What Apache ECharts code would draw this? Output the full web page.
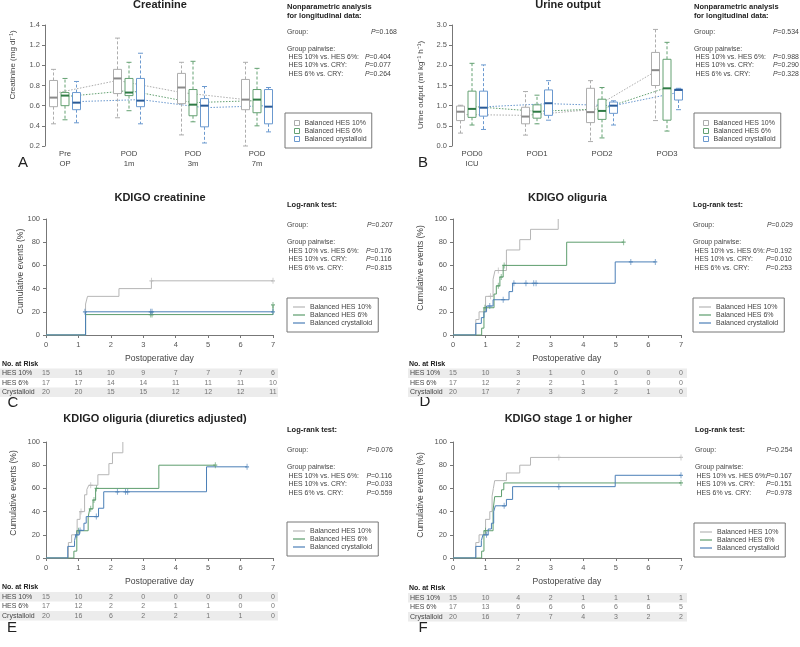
<!DOCTYPE html>
<html><head><meta charset="utf-8">
<script src="https://cdn.jsdelivr.net/npm/echarts@6/dist/echarts.min.js"></script>
<style>html,body{margin:0;padding:0;background:#fff}#c{width:800px;height:647px}</style>
</head><body><div id="c"></div>
<script>
// ================= DATA =================
const groups = ['Balanced HES 10%', 'Balanced HES 6%', 'Balanced crystalloid'];

// Box plots: [min, q1, median, q3, max, mean]
const creatCats = ['Pre\nOP', 'POD\n1m', 'POD\n3m', 'POD\n7m'];
const creatHES10 = [[0.42,0.59,0.68,0.85,0.96,0.72],[0.48,0.72,0.87,0.96,1.27,0.85],[0.31,0.62,0.78,0.92,1.03,0.73],[0.20,0.56,0.66,0.86,1.03,0.66]];
const creatHES6  = [[0.46,0.60,0.70,0.73,0.87,0.69],[0.55,0.70,0.73,0.87,1.03,0.75],[0.44,0.50,0.61,0.76,1.04,0.63],[0.40,0.53,0.66,0.76,0.97,0.65]];
const creatCRY   = [[0.43,0.56,0.63,0.73,0.84,0.64],[0.42,0.59,0.65,0.87,1.12,0.66],[0.23,0.39,0.60,0.67,0.79,0.58],[0.34,0.42,0.59,0.76,0.78,0.60]];

const urineCats = ['POD0\nICU', 'POD1', 'POD2', 'POD3'];
const urineHES10 = [[0.32,0.63,0.85,0.99,1.01,0.78],[0.27,0.55,0.73,0.96,1.35,0.76],[0.11,0.58,0.84,1.43,1.62,0.90],[0.63,1.50,1.88,2.32,2.89,1.85]];
const urineHES6  = [[0.52,0.71,0.92,1.36,2.05,0.98],[0.55,0.69,0.85,1.02,1.26,0.86],[0.20,0.66,0.87,1.16,1.45,0.92],[0.37,0.64,1.43,2.15,2.57,1.45]];
const urineCRY   = [[0.41,0.74,0.95,1.36,2.01,0.97],[0.64,0.76,1.06,1.39,1.62,1.05],[0.52,0.81,1.00,1.09,1.12,1.00],[0.90,1.14,1.39,1.41,1.43,1.33]];

// Kaplan-Meier step curves [day, cumulative events %] and censor marks
const kmC_hes10 = [[0,0],[1.22,26.7],[1.28,33.3],[2.25,40.0],[3.25,46.7],[7,46.7]];
const kmC_hes6  = [[0,0],[1.22,17.6],[7,17.6],[7,25.9]];
const kmC_cry   = [[0,0],[1.22,20.0],[7,20.0]];
const censC_hes10 = [[3.25,46.7],[7,46.7]];
const censC_hes6  = [[3.23,17.6],[3.27,17.6],[7,25.9]];
const censC_cry   = [[1.20,20.0],[3.23,20.0],[3.27,20.0],[7,20.0]];

const kmD_hes10 = [[0,0],[0.70,13.3],[0.80,20.0],[1.00,33.3],[1.23,48.1],[1.29,55.6],[1.64,73.3],[2.05,82.2],[2.38,91.1],[3.23,100]];
const kmD_hes6  = [[0,0],[0.88,5.9],[0.95,23.5],[1.26,35.3],[1.33,42.4],[1.44,50.0],[1.54,60.0],[3.49,80.0],[5.24,80.0]];
const kmD_cry   = [[0,0],[0.70,10.0],[0.87,15.0],[0.95,20.0],[1.03,25.0],[1.23,30.4],[1.72,37.4],[1.83,44.6],[4.98,63.0],[6.21,63.0]];
const censD_hes10 = [[1.15,33.3],[1.39,55.6]];
const censD_hes6  = [[0.98,23.5],[1.39,42.4],[1.48,50.0],[1.57,60.0],[5.24,80.0]];
const censD_cry   = [[1.13,25.0],[1.54,30.4],[1.87,44.6],[2.24,44.6],[2.48,44.6],[2.55,44.6],[5.46,63.0],[6.21,63.0]];

const kmE_hes10 = [[0,0],[0.69,13.3],[0.79,20.0],[0.96,33.3],[1.05,40.0],[1.19,54.5],[1.26,59.1],[1.32,62.7],[1.60,71.8],[1.94,81.4],[2.05,90.7],[2.37,100]];
const kmE_hes6  = [[0,0],[0.86,5.9],[0.95,23.5],[1.30,35.3],[1.35,42.4],[1.45,50.0],[1.53,60.0],[3.48,80.0],[5.22,80.0]];
const kmE_cry   = [[0,0],[0.67,10.0],[0.88,15.0],[0.92,20.0],[1.03,23.8],[1.17,30.0],[1.24,35.7],[1.62,42.9],[1.78,57.1],[4.95,78.6],[6.20,78.6]];
const censE_hes10 = [[1.08,40.0],[1.38,62.7]];
const censE_hes6  = [[1.00,23.5],[1.38,42.4],[1.48,50.0],[1.56,60.0],[5.22,80.0]];
const censE_cry   = [[0.95,20.0],[1.05,23.8],[1.55,35.7],[2.20,57.1],[2.45,57.1],[2.52,57.1],[6.20,78.6]];

const kmF_hes10 = [[0,0],[0.70,13.3],[0.80,20.0],[1.00,33.3],[1.13,40.0],[1.20,53.3],[1.24,60.0],[1.28,66.7],[1.64,73.3],[2.05,80.0],[2.38,86.7],[7,86.7]];
const kmF_hes6  = [[0,0],[0.88,5.9],[0.95,23.5],[1.23,41.2],[1.28,52.9],[1.49,58.8],[1.56,64.7],[7,64.7]];
const kmF_cry   = [[0,0],[0.70,10.0],[0.87,15.0],[0.92,20.0],[1.08,25.0],[1.18,30.0],[1.25,40.0],[1.30,45.0],[1.64,50.5],[1.83,61.5],[4.98,71.3],[7,71.3]];
const censF_hes10 = [[3.25,86.7],[7,86.7]];
const censF_hes6  = [[1.00,23.5],[7,64.7]];
const censF_cry   = [[1.03,20.0],[1.57,45.0],[3.25,61.5],[7,71.3]];

// Numbers at risk
const riskRows = ['HES 10%', 'HES 6%', 'Crystalloid'];
const riskDays = [0, 1, 2, 3, 4, 5, 6, 7];
const riskC = [[15,15,10,9,7,7,7,6],[17,17,14,14,11,11,11,10],[20,20,15,15,12,12,12,11]];
const riskD = [[15,10,3,1,0,0,0,0],[17,12,2,2,1,1,0,0],[20,17,7,3,3,2,1,0]];
const riskE = [[15,10,2,0,0,0,0,0],[17,12,2,2,1,1,0,0],[20,16,6,2,2,1,1,0]];
const riskF = [[15,10,4,2,1,1,1,1],[17,13,6,6,6,6,6,5],[20,16,7,7,4,3,2,2]];

// Statistics text: [group P, pairwise P x3]
const pairLabels = ['HES 10% vs. HES 6%:', 'HES 10% vs. CRY:', 'HES 6% vs. CRY:'];
const pA = ['0.168', '0.404', '0.077', '0.264'];
const pB = ['0.534', '0.988', '0.290', '0.328'];
const pC = ['0.207', '0.176', '0.116', '0.815'];
const pD = ['0.029', '0.192', '0.010', '0.253'];
const pE = ['0.076', '0.116', '0.033', '0.559'];
const pF = ['0.254', '0.167', '0.151', '0.978'];

// ================= STYLE / BUILD =================
const FONT = '"Liberation Sans", Arial, Helvetica, sans-serif';
const FS = 6.9;
const COL = ['#b6b6b6', '#5d9d6d', '#4b7fb7'];
const BOXCOL = ['#adadad', '#64a172', '#6b99cf'];
const MEDCOL = ['#8a8a8a', '#2f7b45', '#2a5b98'];
const AX = '#777';

const grid = [], xAxis = [], yAxis = [], series = [], legend = [], graphic = [];

function txt(x, y, s, o) {
  graphic.push({type: 'text', x: x, y: y, silent: true,
    style: Object.assign({text: s, fontSize: FS, fontFamily: FONT, fill: '#444', align: 'left', verticalAlign: 'middle'}, o || {})});
}
function vtxt(x, y, s, size) {
  graphic.push({type: 'text', x: x, y: y, rotation: Math.PI / 2, silent: true,
    style: {text: s, fontSize: size, fontFamily: FONT, fill: '#444', align: 'center', verticalAlign: 'middle'}});
}
function ptxt(x, y, v) {
  txt(x, y, '{i|P}=' + v, {rich: {i: {fontStyle: 'italic', fontSize: FS, fontFamily: FONT, fill: '#444', color: '#444'}}});
}

function boxRender(stats, offset, col, medCol) {
  return function (params, api) {
    const i = params.dataIndex;
    const d = stats[i];
    const cx = api.coord([i, d[2]])[0] + offset;
    const Y = v => api.coord([i, v])[1];
    const hw = 4, cw = 2.5;
    const ch = [];
    ch.push({type: 'line', z2: 5, shape: {x1: cx, y1: Y(d[3]), x2: cx, y2: Y(d[4])}, style: {stroke: col, lineWidth: 1, lineDash: [3, 2]}});
    ch.push({type: 'line', z2: 5, shape: {x1: cx, y1: Y(d[1]), x2: cx, y2: Y(d[0])}, style: {stroke: col, lineWidth: 1, lineDash: [3, 2]}});
    ch.push({type: 'line', z2: 5, shape: {x1: cx - cw, y1: Y(d[4]), x2: cx + cw, y2: Y(d[4])}, style: {stroke: col, lineWidth: 1}});
    ch.push({type: 'line', z2: 5, shape: {x1: cx - cw, y1: Y(d[0]), x2: cx + cw, y2: Y(d[0])}, style: {stroke: col, lineWidth: 1}});
    ch.push({type: 'rect', z2: 10, shape: {x: cx - hw, y: Y(d[3]), width: 2 * hw, height: Y(d[1]) - Y(d[3])}, style: {fill: '#fff', stroke: col, lineWidth: 1}});
    ch.push({type: 'line', z2: 11, shape: {x1: cx - hw, y1: Y(d[2]), x2: cx + hw, y2: Y(d[2])}, style: {stroke: medCol, lineWidth: 2}});
    if (i < stats.length - 1) {
      const n = stats[i + 1];
      const p2 = api.coord([i + 1, n[5]]);
      ch.push({type: 'line', z2: 1, shape: {x1: cx, y1: Y(d[5]), x2: p2[0] + offset, y2: p2[1]}, style: {stroke: col, lineWidth: 1, lineDash: [1.5, 1.5]}});
    }
    return {type: 'group', children: ch};
  };
}

function addBoxPanel(l, t, w, h, yOff, cats, ymin, ymax, step, sets) {
  const gi = grid.length;
  grid.push({left: l, top: t, width: w, height: h, outerBoundsMode: 'none'});
  xAxis.push({type: 'category', gridIndex: gi, data: cats, axisLine: {show: false}, axisTick: {show: false},
    axisLabel: {fontSize: 7.7, color: '#444', lineHeight: 10, margin: 3, fontFamily: FONT}, splitLine: {show: false}});
  yAxis.push({type: 'value', gridIndex: gi, min: ymin, max: ymax, interval: step, offset: yOff,
    axisLine: {show: true, lineStyle: {color: AX, width: 1}}, axisTick: {show: true, length: 3, lineStyle: {color: AX}},
    axisLabel: {fontSize: 7.5, color: '#555', margin: 5, fontFamily: FONT, formatter: v => v.toFixed(1)}, splitLine: {show: false}});
  const offs = [-11.5, 0, 11.5];
  sets.forEach((st, k) => {
    series.push({type: 'custom', name: groups[k], xAxisIndex: gi, yAxisIndex: gi, silent: true,
      data: st.map((s, i) => [i].concat(s)), renderItem: boxRender(st, offs[k], BOXCOL[k], MEDCOL[k]),
      itemStyle: {color: BOXCOL[k]}});
  });
}

const CROSS = 'path://M5,0L5,10M0,5L10,5';
function addKMPanel(l, t, w, h, curves, cens) {
  const gi = grid.length;
  grid.push({left: l, top: t, width: w, height: h, outerBoundsMode: 'none'});
  xAxis.push({type: 'value', gridIndex: gi, min: 0, max: 7, interval: 1,
    name: 'Postoperative day', nameLocation: 'middle', nameGap: 19,
    nameTextStyle: {fontSize: 8.6, color: '#444', fontFamily: FONT},
    axisLine: {show: true, lineStyle: {color: AX}}, axisTick: {show: true, length: 3, lineStyle: {color: AX}},
    axisLabel: {fontSize: 7.5, color: '#555', margin: 6, fontFamily: FONT}, splitLine: {show: false}});
  yAxis.push({type: 'value', gridIndex: gi, min: 0, max: 100, interval: 20,
    axisLine: {show: true, lineStyle: {color: AX}}, axisTick: {show: true, length: 3, lineStyle: {color: AX}},
    axisLabel: {fontSize: 7.5, color: '#555', margin: 6, fontFamily: FONT}, splitLine: {show: false}});
  curves.forEach((c, k) => {
    series.push({type: 'line', name: groups[k], xAxisIndex: gi, yAxisIndex: gi, data: c, step: 'end',
      symbol: 'none', silent: true, lineStyle: {color: COL[k], width: 1}, itemStyle: {color: COL[k]}, z: 3 + k});
    series.push({type: 'scatter', name: groups[k], xAxisIndex: gi, yAxisIndex: gi, data: cens[k], silent: true,
      symbol: CROSS, symbolSize: [4, 6], itemStyle: {color: 'rgba(0,0,0,0)', borderColor: COL[k], borderWidth: 1}, z: 6 + k});
  });
}

function addRiskTable(l, w, t, h, x0px, x7px, rows) {
  const gi = grid.length;
  grid.push({left: l, top: t, width: w, height: h, outerBoundsMode: 'none'});
  const ppd = (x7px - x0px) / 7;
  xAxis.push({type: 'value', gridIndex: gi, show: false, min: -(x0px - l) / ppd, max: 7 + (l + w - x7px) / ppd,
    splitLine: {show: false}});
  yAxis.push({type: 'category', gridIndex: gi, data: riskRows, inverse: true,
    axisLine: {show: false}, axisTick: {show: false},
    axisLabel: {inside: true, fontSize: 7, color: '#444', margin: 2, fontFamily: FONT},
    splitLine: {show: false}, splitArea: {show: true, areaStyle: {color: ['#ececec', 'rgba(255,255,255,0)']}}});
  const data = [];
  rows.forEach((r, ri) => r.forEach((v, di) => data.push([riskDays[di], ri, v])));
  series.push({type: 'scatter', xAxisIndex: gi, yAxisIndex: gi, data: data, symbolSize: 1, silent: true,
    itemStyle: {color: 'rgba(0,0,0,0)'},
    label: {show: true, position: 'inside', formatter: p => String(p.value[2]), fontSize: 7, color: '#555', fontFamily: FONT}});
}

function addLegend(left, top, kind) {
  const box = kind === 'box';
  legend.push({left: left, top: top, orient: 'vertical', selectedMode: false,
    padding: box ? [6, 5, 5, 9] : [5, 6, 5, 6], borderColor: '#777', borderWidth: 1, borderRadius: 0,
    itemGap: 0, itemWidth: box ? 5 : 12, itemHeight: box ? 5 : 1.2, itemTextGap: box ? 5 : 7,
    textStyle: {fontSize: 7, color: '#444', fontFamily: FONT, lineHeight: 8},
    data: groups.map((g, k) => ({name: g, icon: 'rect',
      itemStyle: box ? {color: '#fff', borderColor: BOXCOL[k], borderWidth: 1} : {color: COL[k], borderWidth: 0}}))});
}

function statBlockNP(x, pVals, pxG, pxP) {
  txt(x, 7.3, 'Nonparametric analysis', {fontWeight: 'bold', fill: '#222', fontSize: 7.5});
  txt(x, 16, 'for longitudinal data:', {fontWeight: 'bold', fill: '#222', fontSize: 7.5});
  txt(x, 32, 'Group:'); ptxt(pxG, 32, pVals[0]);
  txt(x, 49.3, 'Group pairwise:');
  [57.3, 65.5, 73.8].forEach((y, i) => { txt(x + 1.5, y, pairLabels[i]); ptxt(pxP, y, pVals[i + 1]); });
}
function statBlockLR(x, y0, pVals, pxG, pxP) {
  txt(x, y0, 'Log-rank test:', {fontWeight: 'bold', fill: '#222', fontSize: 7.5});
  txt(x, y0 + 20, 'Group:'); ptxt(pxG, y0 + 20, pVals[0]);
  txt(x, y0 + 37, 'Group pairwise:');
  [46, 54.5, 63].forEach((dy, i) => { txt(x + 1.5, y0 + dy, pairLabels[i]); ptxt(pxP, y0 + dy, pVals[i + 1]); });
}
function title(x, y, s) { txt(x, y, s, {fontSize: 11, fontWeight: 'bold', fill: '#222', align: 'center'}); }
function letter(x, y, s) { txt(x, y, s, {fontSize: 15, fill: '#222', align: 'center'}); }

// ---- Panel A ----
addBoxPanel(33, 25, 256, 121, -12, creatCats, 0.2, 1.4, 0.2, [creatHES10, creatHES6, creatCRY]);
title(160, 5, 'Creatinine');
vtxt(12.7, 65, 'Creatinine (mg dl\u207B\u00B9)', 8);
letter(23, 163, 'A');
statBlockNP(287, pA, 371, 365);
addLegend(285, 113, 'box');

// ---- Panel B ----
addBoxPanel(439.5, 25, 260, 121, -12.5, urineCats, 0, 3, 0.5, [urineHES10, urineHES6, urineCRY]);
title(568, 5, 'Urine output');
vtxt(420.7, 85, 'Urine output (ml kg\u207B\u00B9 h\u207B\u00B9)', 8);
letter(423, 163, 'B');
statBlockNP(694, pB, 773, 773);
addLegend(694, 113, 'box');

// ---- Panel C ----
addKMPanel(46, 219, 227, 116, [kmC_hes10, kmC_hes6, kmC_cry], [censC_hes10, censC_hes6, censC_cry]);
title(160, 197.5, 'KDIGO creatinine');
vtxt(21, 271.5, 'Cumulative events (%)', 8.5);
statBlockLR(287, 205, pC, 367, 366);
addLegend(287, 298, 'line');
txt(2, 364.3, 'No. at Risk', {fontWeight: 'bold', fill: '#222', fontSize: 7});
addRiskTable(0, 278, 368.5, 28.5, 46, 273, riskC);
letter(13, 403, 'C');

// ---- Panel D ----
addKMPanel(453, 219, 228, 116, [kmD_hes10, kmD_hes6, kmD_cry], [censD_hes10, censD_hes6, censD_cry]);
title(567.5, 197.5, 'KDIGO oliguria');
vtxt(421, 268, 'Cumulative events (%)', 8.5);
statBlockLR(693, 205, pD, 767, 766);
addLegend(693, 298, 'line');
txt(409, 364.3, 'No. at Risk', {fontWeight: 'bold', fill: '#222', fontSize: 7});
addRiskTable(408, 279, 368.5, 28.5, 453, 681, riskD);
letter(425, 402, 'D');

// ---- Panel E ----
addKMPanel(46, 442, 227, 116, [kmE_hes10, kmE_hes6, kmE_cry], [censE_hes10, censE_hes6, censE_cry]);
title(155, 419, 'KDIGO oliguria (diuretics adjusted)');
vtxt(13.5, 493, 'Cumulative events (%)', 8.5);
statBlockLR(287, 430, pE, 367, 366.5);
addLegend(287, 522, 'line');
txt(2, 587.5, 'No. at Risk', {fontWeight: 'bold', fill: '#222', fontSize: 7});
addRiskTable(0, 278, 592, 28.5, 46, 273, riskE);
letter(12, 628, 'E');

// ---- Panel F ----
addKMPanel(453, 442, 228, 116, [kmF_hes10, kmF_hes6, kmF_cry], [censF_hes10, censF_hes6, censF_cry]);
title(568.5, 419, 'KDIGO stage 1 or higher');
vtxt(421, 495, 'Cumulative events (%)', 8.5);
statBlockLR(695, 430, pF, 766.5, 766);
addLegend(694, 523, 'line');
txt(409, 588, 'No. at Risk', {fontWeight: 'bold', fill: '#222', fontSize: 7});
addRiskTable(408, 279, 593, 28.5, 453, 681, riskF);
letter(423, 628, 'F');

const chart = echarts.init(document.getElementById('c'), null, {renderer: 'canvas'});
chart.setOption({
  animation: false,
  backgroundColor: '#fff',
  textStyle: {fontFamily: FONT},
  tooltip: {show: false},
  grid: grid, xAxis: xAxis, yAxis: yAxis, series: series, legend: legend, graphic: graphic
});
</script>
</body></html>
